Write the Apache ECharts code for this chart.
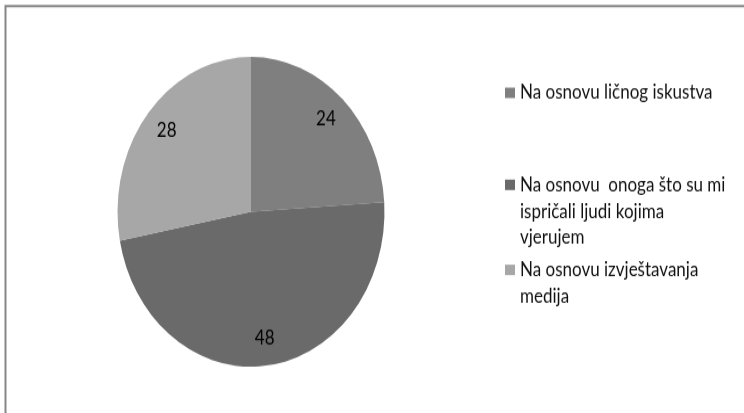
<!DOCTYPE html>
<html><head><meta charset="utf-8">
<script src="https://cdn.jsdelivr.net/npm/echarts@6/dist/echarts.min.js"></script>
<style>
html,body{margin:0;padding:0;background:#fff;overflow:hidden}
#wrap{width:744px;height:413px;overflow:hidden;position:relative}
#c{width:744px;height:356px;transform:scaleY(1.1601);transform-origin:0 0}
</style></head><body><div id="wrap"><div id="c"></div></div>
<script>
// ---- data ----
const categories = [
  'Na osnovu ličnog iskustva',
  'Na osnovu  onoga što su mi ispričali ljudi kojima vjerujem',
  'Na osnovu izvještavanja medija'
];
const legendLines = [
  ['Na osnovu ličnog iskustva'],
  ['Na osnovu  onoga što su mi', 'ispričali ljudi kojima', 'vjerujem'],
  ['Na osnovu izvještavanja', 'medija']
];
const values = [24, 48, 28];
const colors = ['#7f7f7f', '#6a6a6a', '#a7a7a7'];

// ---- layout (unscaled chart coordinates) ----
const CX = 251, CY = 182.6, R = 133.5, LABEL_R = 0.82 * R;
const LH = 22.8;
const legendCenters = [80, 159.3, 232.6];
const FONT = 'Lato';

const total = values.reduce((a, b) => a + b, 0);
const cum = values.map((v, i) => values.slice(0, i).reduce((a, b) => a + b, 0));

const chart = echarts.init(document.getElementById('c'), null, {renderer: 'canvas'});
chart.setOption({
  animation: false,
  backgroundColor: '#ffffff',
  color: colors,
  graphic: [{
    type: 'rect', silent: true,
    shape: {x: 5.5, y: 5.2, width: 900, height: 600},
    style: {fill: 'none', stroke: '#868686', lineWidth: 2}
  }],
  legend: categories.map((name, i) => {
    const n = legendLines[i].length;
    return {
      data: [{name: name, icon: 'rect'}],
      orient: 'vertical',
      left: 505,
      top: legendCenters[i] - (2 * n - 1) * LH / 2,
      padding: 0,
      itemWidth: 10,
      itemHeight: 9,
      selectedMode: false,
      // blank leading lines keep the icon level with the first text line
      formatter: () => '\n'.repeat(n - 1) + legendLines[i].join('\n'),
      textStyle: {fontFamily: FONT, fontSize: 17, color: '#111', lineHeight: LH}
    };
  }),
  series: [{
    type: 'pie',
    center: [CX, CY],
    radius: R,
    startAngle: 90,
    clockwise: true,
    avoidLabelOverlap: false,
    emphasis: {disabled: true},
    itemStyle: {borderWidth: 0},
    data: categories.map((name, i) => ({name: name, value: values[i]})),
    label: {show: true, position: 'inside', formatter: '{c}', color: '#000', fontFamily: FONT, fontSize: 17},
    labelLine: {show: false},
    labelLayout: function (p) {
      const i = p.dataIndex;
      const a = (cum[i] + values[i] / 2) / total * 2 * Math.PI;
      return {x: CX + LABEL_R * Math.sin(a), y: CY - LABEL_R * Math.cos(a), align: 'center', verticalAlign: 'middle'};
    }
  }]
});
</script></body></html>
